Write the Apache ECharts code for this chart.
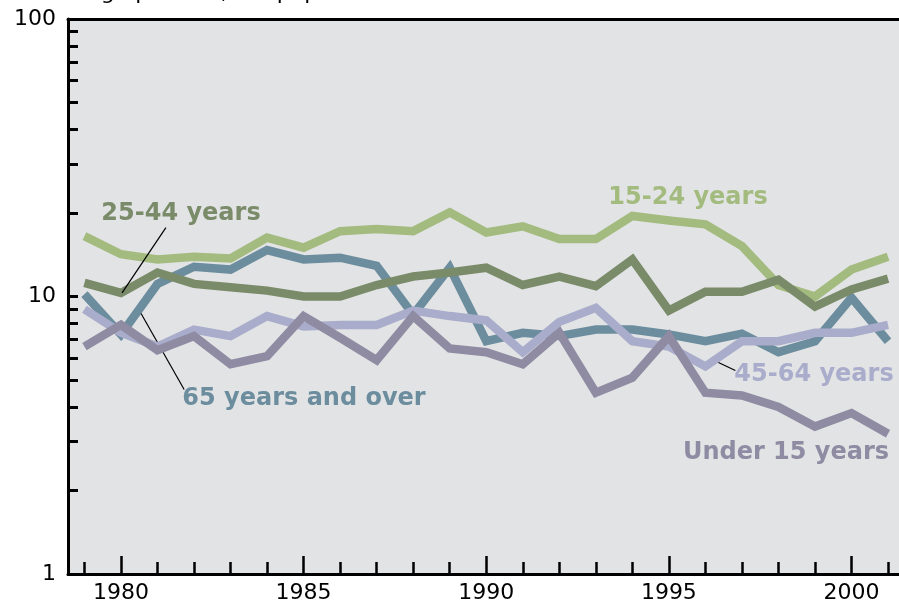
<!DOCTYPE html>
<html>
<head>
<meta charset="utf-8">
<script src="https://cdn.jsdelivr.net/npm/echarts@6/dist/echarts.min.js"></script>
<style>
  html, body { margin: 0; padding: 0; background: #fff; }
  #chart { width: 899px; height: 604px; }
</style>
</head>
<body>
<div id="chart"></div>
<script>
// years and rates (per 100,000)
var years = [1979, 1980, 1981, 1982, 1983, 1984, 1985, 1986, 1987, 1988, 1989, 1990,
  1991, 1992, 1993, 1994, 1995, 1996, 1997, 1998, 1999, 2000, 2001];
var age15to24 = [16.5, 14.2, 13.6, 13.9, 13.7, 16.3, 15.0, 17.2, 17.5, 17.2, 20.1, 17.0,
  17.9, 16.1, 16.1, 19.5, 18.8, 18.2, 15.2, 11.0, 10.0, 12.5, 13.9];
var age25to44 = [11.2, 10.3, 12.2, 11.1, 10.8, 10.5, 10.0, 10.0, 11.0, 11.8, 12.2, 12.7,
  11.0, 11.8, 10.9, 13.6, 8.9, 10.4, 10.4, 11.5, 9.2, 10.6, 11.6];
var age65plus = [10.2, 7.3, 11.1, 12.8, 12.5, 14.7, 13.6, 13.8, 12.9, 8.6, 12.7, 6.9,
  7.4, 7.2, 7.6, 7.6, 7.3, 6.9, 7.35, 6.3, 6.9, 9.9, 6.9];
var age45to64 = [9.0, 7.4, 6.6, 7.6, 7.2, 8.5, 7.8, 7.9, 7.9, 8.9, 8.5, 8.2,
  6.3, 8.1, 9.1, 6.9, 6.6, 5.6, 6.9, 6.9, 7.4, 7.4, 7.9];
var under15 = [6.6, 7.9, 6.4, 7.2, 5.7, 6.1, 8.5, 7.1, 5.9, 8.5, 6.5, 6.3,
  5.7, 7.4, 4.5, 5.1, 7.2, 4.5, 4.4, 4.0, 3.4, 3.8, 3.2];

var yLabels = [1, 10, 100];
var yMinorTicks = [2, 3, 4, 5, 6, 7, 8, 9, 10, 20, 30, 40, 50, 60, 70, 80, 90];
var xLabels = [1980, 1985, 1990, 1995, 2000];

function pairs(vals) {
  return years.map(function (y, i) { return [y, vals[i]]; });
}

var font = 'DejaVu Sans, Verdana, sans-serif';

function leader(from, to) {
  return {
    silent: true,
    symbol: ['none', 'none'],
    animation: false,
    label: { show: false },
    lineStyle: { color: '#000', width: 1.2, type: 'solid' },
    data: [[{ coord: from }, { coord: to }]]
  };
}

function line(name, vals, color, z, mark) {
  var s = {
    name: name,
    type: 'line',
    data: pairs(vals),
    showSymbol: false,
    symbol: 'none',
    z: z,
    lineStyle: { color: color, width: 8.5, join: 'miter' },
    itemStyle: { color: color }
  };
  if (mark) s.markLine = mark;
  return s;
}

function tag(text, x, y, color) {
  return {
    type: 'text',
    x: x, y: y,
    style: {
      text: text,
      fill: color,
      font: 'bold 24px ' + font,
      textAlign: 'center',
      textVerticalAlign: 'middle'
    },
    z: 100
  };
}

var chart = echarts.init(document.getElementById('chart'));
chart.setOption({
  animation: false,
  backgroundColor: '#fff',
  grid: {
    left: 68, right: 0, top: 19, bottom: 30,
    show: true, backgroundColor: '#e2e3e5', borderWidth: 0
  },
  xAxis: [{
    type: 'value',
    min: 1978.55, max: 2001.3,
    axisLine: { lineStyle: { color: '#000', width: 3 } },
    axisTick: { inside: true, length: 12, customValues: years, lineStyle: { color: '#000', width: 2.5 } },
    axisLabel: {
      customValues: xLabels, color: '#000', fontSize: 22, fontFamily: font, margin: 8,
      formatter: function (v) { return String(v); }
    },
    splitLine: { show: false }
  }, {
    type: 'value',
    min: 1978.55, max: 2001.3,
    position: 'bottom',
    axisLine: { show: false },
    axisTick: { inside: true, length: 18, customValues: xLabels, lineStyle: { color: '#000', width: 2.5 } },
    axisLabel: { show: false },
    splitLine: { show: false }
  }, {
    type: 'value',
    min: 1978.55, max: 2001.3,
    position: 'top',
    axisLine: { lineStyle: { color: '#000', width: 3 } },
    axisTick: { show: false },
    axisLabel: { show: false },
    splitLine: { show: false }
  }],
  yAxis: {
    type: 'log',
    logBase: 10,
    min: 1, max: 100,
    axisLine: { show: true, lineStyle: { color: '#000', width: 3 } },
    axisTick: { inside: true, length: 10, customValues: yMinorTicks, lineStyle: { color: '#000', width: 3 } },
    axisLabel: { customValues: yLabels, color: '#000', fontSize: 22, fontFamily: font, margin: 12 },
    splitLine: { show: false }
  },
  graphic: [
    {
      type: 'text', x: 38, y: 4,
      style: { text: 'Average per 100,000 population', fill: '#000', font: '22px ' + font, textVerticalAlign: 'bottom' }
    },
    tag('25-44 years', 181, 214, '#7a8b69'),
    tag('15-24 years', 688, 198, '#a3bb7e'),
    tag('65 years and over', 304, 399, '#6c8d9e'),
    tag('45-64 years', 814, 375, '#a9acca'),
    tag('Under 15 years', 786, 453, '#8e8ba3')
  ],
  series: [
    line('15-24 years', age15to24, '#a3bb7e', 2),
    line('65 years and over', age65plus, '#6c8d9e', 3, leader([1980.55, 8.68], [1981.73, 4.62])),
    line('25-44 years', age25to44, '#7a8b69', 4, leader([1981.23, 17.7], [1980.03, 10.3])),
    line('45-64 years', age45to64, '#a9acca', 5, leader([1996.3, 5.83], [1996.82, 5.41])),
    line('Under 15 years', under15, '#8e8ba3', 6)
  ]
});
</script>
</body>
</html>
